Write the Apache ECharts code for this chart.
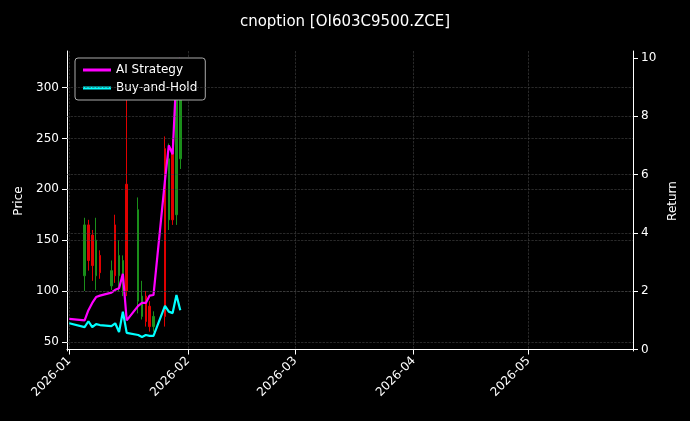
<!DOCTYPE html>
<html><head><meta charset="utf-8">
<script src="https://cdn.jsdelivr.net/npm/echarts@6/dist/echarts.min.js"></script>
<style>html,body{margin:0;background:#000}#c{width:690px;height:421px}</style>
</head><body><div id="c"></div>
<script>
const candleDates = ['2026-01-05','2026-01-06','2026-01-07','2026-01-08','2026-01-09','2026-01-12','2026-01-13','2026-01-14','2026-01-15','2026-01-16','2026-01-19','2026-01-20','2026-01-21','2026-01-22','2026-01-23','2026-01-26','2026-01-27','2026-01-28','2026-01-29','2026-01-30'];
// [open, close, low, high]
const ohlc = [[115,165,100,172],[165,130,120,170],[155,125,110,160],[115,150,101,172],[135,118,112,140],[105,120,101,130],[165,115,108,175],[115,135,100,150],[110,130,95,135],[205,100,95,290],[90,180,78,192],[75,95,72,110],[95,70,65,100],[85,65,60,90],[65,75,60,80],[240,75,65,252],[170,230,160,245],[240,170,165,250],[175,300,165,320],[230,300,220,320]];
const lineDates = ['2026-01-01','2026-01-05','2026-01-06','2026-01-07','2026-01-08','2026-01-09','2026-01-12','2026-01-13','2026-01-14','2026-01-15','2026-01-16','2026-01-19','2026-01-20','2026-01-21','2026-01-22','2026-01-23','2026-01-26','2026-01-27','2026-01-28','2026-01-29','2026-01-30'];
const aiStrategy = [1.05,1.0,1.35,1.6,1.8,1.85,1.95,2.05,2.1,2.6,1.0,1.5,1.6,1.6,1.85,1.87,5.8,7.0,6.7,9.5,10.0];
const buyHold = [0.9,0.77,0.97,0.77,0.87,0.84,0.8,0.9,0.6,1.3,0.57,0.5,0.43,0.5,0.47,0.47,1.5,1.3,1.25,1.87,1.35];

const ts = s => new Date(s + 'T00:00:00').getTime();
const day = 86400000;
const chart = echarts.init(document.getElementById('c'));
const gridLine = {show:true,lineStyle:{color:'#444',type:'dashed',width:0.6}};
chart.setOption({
  backgroundColor:'#000',
  animation:false,
  title:{text:'cnoption [OI603C9500.ZCE]',left:'center',top:10,textStyle:{color:'#fff',fontSize:15,fontWeight:'normal',fontFamily:'DejaVu Sans'}},
  legend:{left:75,top:58,orient:'vertical',backgroundColor:'#000',borderColor:'#aaa',borderWidth:1,borderRadius:3,padding:[6,8],itemGap:6,itemWidth:28,itemHeight:3,
    textStyle:{color:'#fff',fontSize:12,fontFamily:'DejaVu Sans'},data:[{name:'AI Strategy',icon:'rect'},{name:'Buy-and-Hold',icon:'rect'}]},
  grid:{left:67,right:57,top:51,bottom:70},
  xAxis:{type:'time',min:ts('2026-01-01')-0.6*day,max:ts('2026-05-28')+0.3*day,
    minInterval:28*day,maxInterval:31*day,
    axisLine:{lineStyle:{color:'#fff'}},
    axisTick:{show:true,lineStyle:{color:'#fff'}},
    axisLabel:{rotate:45,color:'#fff',fontSize:12,fontFamily:'DejaVu Sans',hideOverlap:false,
      formatter:v=>{const d=new Date(v);return d.getFullYear()+'-'+String(d.getMonth()+1).padStart(2,'0');}},
    splitLine:gridLine},
  yAxis:[
    {type:'value',min:41,max:336,name:'Price',nameLocation:'middle',nameGap:40,nameTextStyle:{color:'#fff',fontSize:12,fontFamily:'DejaVu Sans'},
     axisLine:{show:true,lineStyle:{color:'#fff'}},axisTick:{show:true,customValues:[50,100,150,200,250,300]},
     axisLabel:{color:'#fff',fontSize:12,fontFamily:'DejaVu Sans',customValues:[50,100,150,200,250,300]},
     splitLine:{show:false}},
    {type:'value',min:-0.05,max:10.24,name:'Return',nameLocation:'middle',nameGap:30,nameTextStyle:{color:'#fff',fontSize:12,fontFamily:'DejaVu Sans'},
     axisLine:{show:true,lineStyle:{color:'#fff'}},axisTick:{show:true,customValues:[0,2,4,6,8,10]},
     axisLabel:{color:'#fff',fontSize:12,fontFamily:'DejaVu Sans',customValues:[0,2,4,6,8,10]},
     splitLine:{show:false}}
  ],
  series:[
    {type:'candlestick',yAxisIndex:0,barWidth:2,data:candleDates.map((d,i)=>[ts(d)].concat(ohlc[i])),
     itemStyle:{color:'#1a8f1a',color0:'#e00000',borderColor:'#1a8f1a',borderColor0:'#e00000',borderWidth:1},
     markLine:{silent:true,symbol:'none',label:{show:false},lineStyle:{color:'#444',type:'dashed',width:0.6},
       data:[50,100,150,200,250,300].map(v=>({yAxis:v}))}},
    {name:'AI Strategy',type:'line',yAxisIndex:1,symbol:'none',lineStyle:{color:'#ff00ff',width:2.2},itemStyle:{color:'#ff00ff'},
     data:lineDates.map((d,i)=>[ts(d),aiStrategy[i]]),
     markLine:{silent:true,symbol:'none',label:{show:false},lineStyle:{color:'#444',type:'dashed',width:0.6},
       data:[2,4,6,8].map(v=>({yAxis:v}))}},
    {name:'Buy-and-Hold',type:'line',yAxisIndex:1,symbol:'none',lineStyle:{color:'#00ffff',width:2.2},itemStyle:{color:'#00ffff'},
     data:lineDates.map((d,i)=>[ts(d),buyHold[i]])}
  ]
});
</script></body></html>
